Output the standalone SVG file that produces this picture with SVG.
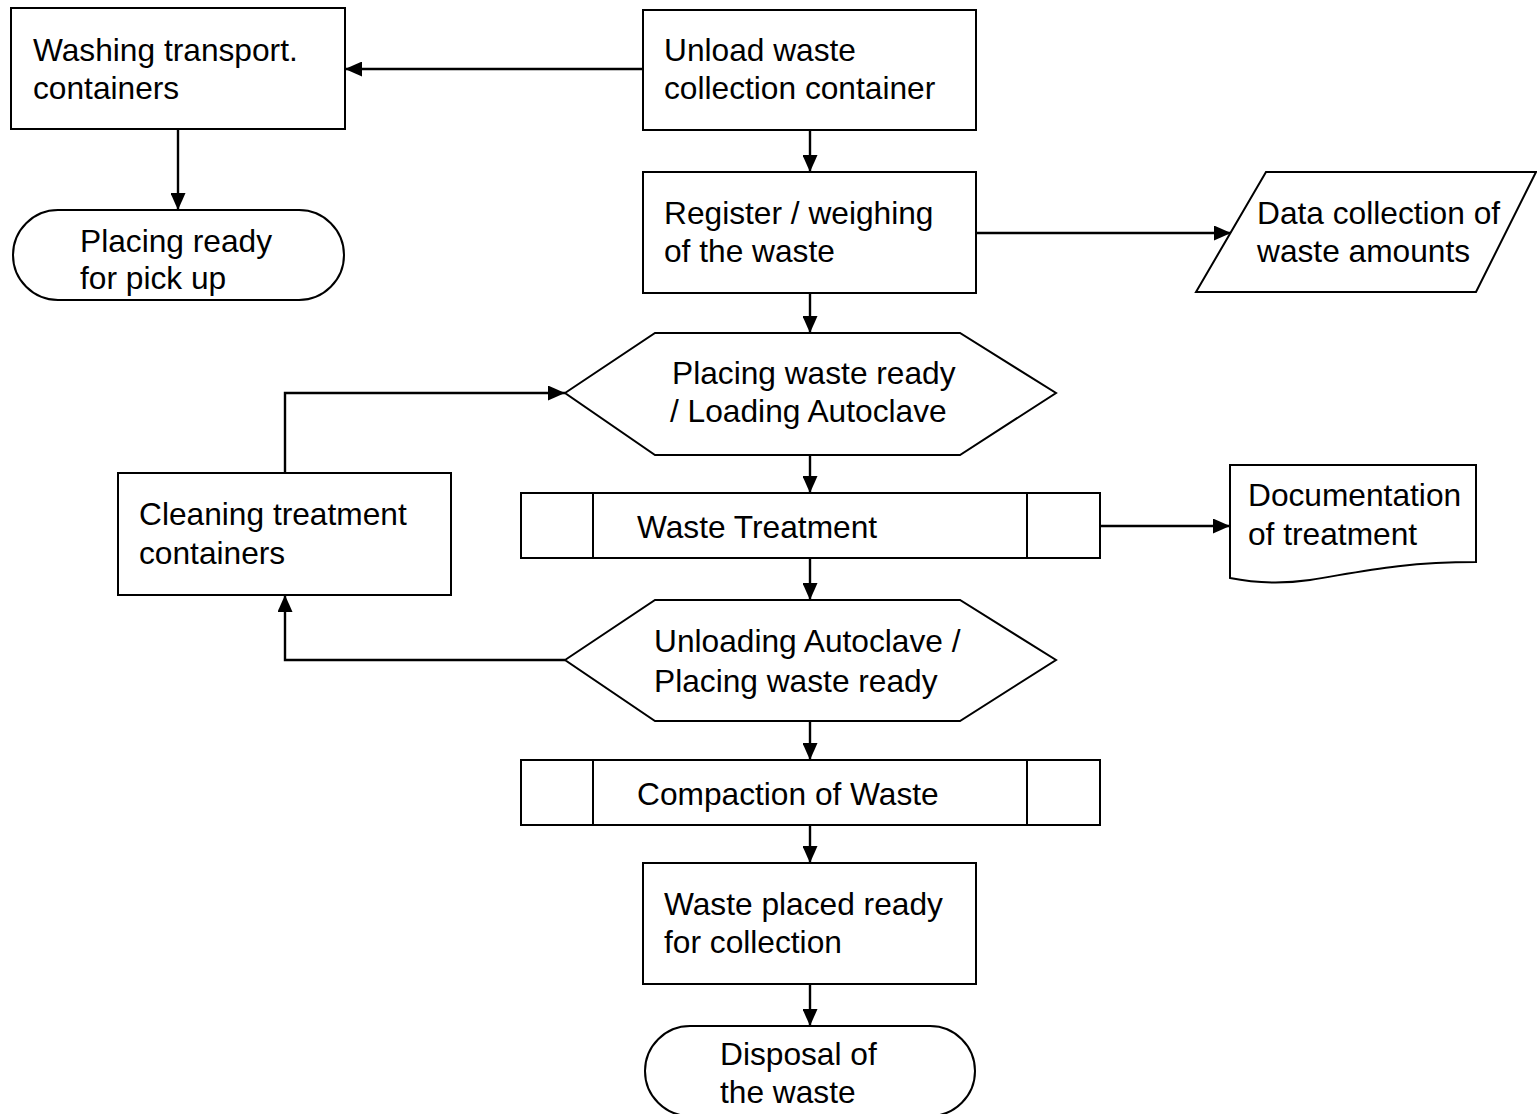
<svg xmlns="http://www.w3.org/2000/svg" width="1537" height="1114" viewBox="0 0 1537 1114">
<defs>
<marker id="ah" viewBox="0 0 17 15" refX="17" refY="7.5" markerWidth="17" markerHeight="15" markerUnits="userSpaceOnUse" orient="auto">
<path d="M0,0 L17,7.5 L0,15 Z" fill="#000"/>
</marker>
</defs>
<style>
.s{fill:#fff;stroke:#000;stroke-width:2}
.t{font-family:"Liberation Sans",Arial,sans-serif;font-size:31.7px;fill:#000}
.c{fill:none;stroke:#000;stroke-width:2.4;marker-end:url(#ah)}
.l{fill:none;stroke:#000;stroke-width:2}
</style>
<rect width="1537" height="1114" fill="#fff"/>
<g id="connectors">
<path class="c" d="M643,69 H345"/>
<path class="c" d="M178,129 V210"/>
<path class="c" d="M810,130 V172"/>
<path class="c" d="M976,233 H1231"/>
<path class="c" d="M810,293 V333"/>
<path class="c" d="M285,473 V393 H565"/>
<path class="c" d="M810,455 V493"/>
<path class="c" d="M1100,526 H1230"/>
<path class="c" d="M810,558 V600"/>
<path class="c" d="M565,660 H285 V595"/>
<path class="c" d="M810,721 V760"/>
<path class="c" d="M810,825 V863"/>
<path class="c" d="M810,984 V1026"/>
</g>
<g id="washing">
<rect class="s" x="11" y="8" width="334" height="121"/>
<text class="t" x="33" y="61">Washing transport.</text>
<text class="t" x="33" y="99">containers</text>
</g>
<g id="pickup">
<rect class="s" x="13" y="210" width="331" height="90" rx="45" ry="45"/>
<text class="t" x="80" y="252">Placing ready</text>
<text class="t" x="80" y="289">for pick up</text>
</g>
<g id="unload">
<rect class="s" x="643" y="10" width="333" height="120"/>
<text class="t" x="664" y="61">Unload waste</text>
<text class="t" x="664" y="99">collection container</text>
</g>
<g id="register">
<rect class="s" x="643" y="172" width="333" height="121"/>
<text class="t" x="664" y="224">Register / weighing</text>
<text class="t" x="664" y="262">of the waste</text>
</g>
<g id="datacollection">
<polygon class="s" points="1266,172 1536,172 1476,292 1196,292"/>
<text class="t" x="1257" y="224">Data collection of</text>
<text class="t" x="1257" y="262">waste amounts</text>
</g>
<g id="loading">
<polygon class="s" points="565,393 655,333 960,333 1056,393 960,455 655,455"/>
<text class="t" x="672" y="384">Placing waste ready</text>
<text class="t" x="670" y="422">/ Loading Autoclave</text>
</g>
<g id="treatment">
<rect class="s" x="521" y="493" width="579" height="65"/>
<path class="l" d="M593,493 V558 M1027,493 V558"/>
<text class="t" x="637" y="538">Waste Treatment</text>
</g>
<g id="documentation">
<path class="s" d="M1230,465 H1476 V562 C1400,562 1360,572 1310,580 C1275,585 1250,582 1230,578 Z"/>
<text class="t" x="1248" y="506">Documentation</text>
<text class="t" x="1248" y="545">of treatment</text>
</g>
<g id="cleaning">
<rect class="s" x="118" y="473" width="333" height="122"/>
<text class="t" x="139" y="525">Cleaning treatment</text>
<text class="t" x="139" y="564">containers</text>
</g>
<g id="unloading">
<polygon class="s" points="565,660 655,600 960,600 1056,660 960,721 655,721"/>
<text class="t" x="654" y="652">Unloading Autoclave /</text>
<text class="t" x="654" y="692">Placing waste ready</text>
</g>
<g id="compaction">
<rect class="s" x="521" y="760" width="579" height="65"/>
<path class="l" d="M593,760 V825 M1027,760 V825"/>
<text class="t" x="637" y="805">Compaction of Waste</text>
</g>
<g id="placed">
<rect class="s" x="643" y="863" width="333" height="121"/>
<text class="t" x="664" y="915">Waste placed ready</text>
<text class="t" x="664" y="953">for collection</text>
</g>
<g id="disposal">
<rect class="s" x="645" y="1026" width="330" height="90" rx="45" ry="45"/>
<text class="t" x="720" y="1065">Disposal of</text>
<text class="t" x="720" y="1103">the waste</text>
</g>
</svg>
